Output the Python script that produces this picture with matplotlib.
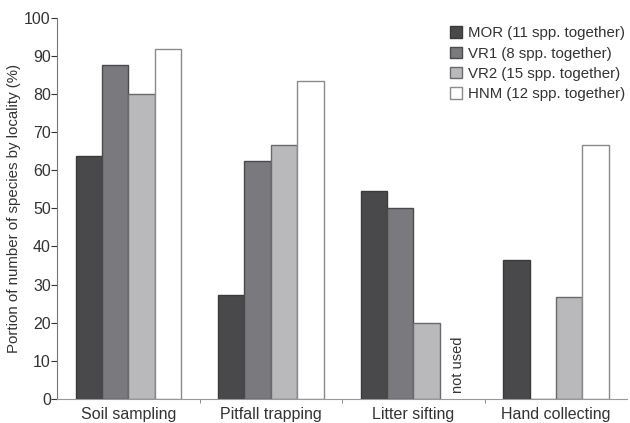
import numpy as np
import matplotlib.pyplot as plt

plt.rcParams['font.family'] = ['Liberation Sans', 'DejaVu Sans']

# data
methods = ['Soil sampling', 'Pitfall trapping', 'Litter sifting', 'Hand collecting']
localities = ['MOR (11 spp. together)', 'VR1 (8 spp. together)',
              'VR2 (15 spp. together)', 'HNM (12 spp. together)']
mor = [63.6, 27.3, 54.5, 36.4]
vr1 = [87.5, 62.5, 50.0, 0.0]
vr2 = [80.0, 66.7, 20.0, 26.7]
hnm = [91.7, 83.3, np.nan, 66.7]

colors = ['#49494b', '#7a7a7e', '#b9b9bb', '#ffffff']
edges = ['#3a3a3a', '#4a4a4a', '#6a6a6a', '#8a8a8a']

fig = plt.figure(figsize=(6.3, 4.23), dpi=100)
ax = fig.add_axes([0.0905, 0.057, 0.905, 0.901])

x = np.arange(len(methods))
w = 0.185
series = [mor, vr1, vr2, hnm]
for i, vals in enumerate(series):
    ax.bar(x + (i - 1.5) * w, vals, w, color=colors[i], edgecolor=edges[i],
           linewidth=1.0, label=localities[i])

# HNM did not use litter sifting
ax.text(x[2] + 1.5 * w + 0.035, 1.5, 'not used', rotation=90, ha='center', va='bottom',
        fontsize=10.5, color='#333333')

ax.set_xlim(-0.5, 3.5)
ax.set_ylim(0, 100)
ax.set_yticks(np.arange(0, 101, 10))
ax.set_xticks(x)
ax.set_xticklabels(methods)
ax.set_xticks([0.5, 1.5, 2.5], minor=True)
ax.tick_params(axis='x', which='major', length=0, pad=6, labelsize=11.5, colors='#333333')
ax.tick_params(axis='x', which='minor', length=3, direction='out', color='#777777')
ax.tick_params(axis='y', length=4, labelsize=11.5, colors='#333333', pad=0.5)
ax.set_ylabel('Portion of number of species by locality (%)', fontsize=10.8,
              color='#333333', labelpad=2)

for s in ['top', 'right']:
    ax.spines[s].set_visible(False)
ax.spines['left'].set_color('#777777')
ax.spines['bottom'].set_color('#999999')

leg = fig.legend(loc='upper right', bbox_to_anchor=(0.992, 0.938), frameon=False,
                 fontsize=10.8, handlelength=0.8, handleheight=0.8, borderpad=0,
                 borderaxespad=0, handletextpad=0.35, labelspacing=0.42,
                 labelcolor='#333333')

fig.savefig('out.png', dpi=100)
